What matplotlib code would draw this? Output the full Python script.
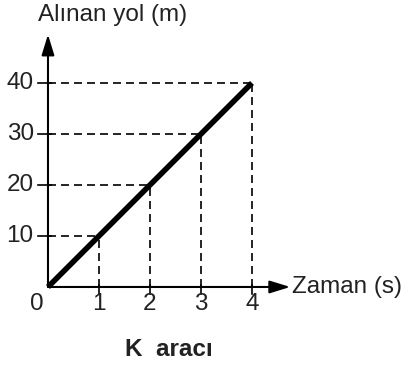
import matplotlib.pyplot as plt

plt.rcParams['font.family'] = ['Liberation Sans', 'DejaVu Sans']

# data
times = [0, 1, 2, 3, 4]
distances = [0, 10, 20, 30, 40]
x_ticks = [1, 2, 3, 4]
y_ticks = [10, 20, 30, 40]

fig = plt.figure(figsize=(4.07, 3.67), dpi=100)
ax = fig.add_axes([0, 0, 1, 1])
ax.set_xlim(-0.941, 7.04)
ax.set_ylim(-15.69, 56.27)
ax.axis('off')

dash = (0, (4.8, 3.0))

# guide lines
for t, d in zip(times[1:], distances[1:]):
    ax.plot([0, t], [d, d], color='black', lw=1.2, ls=dash)
    ax.plot([t, t], [0, d], color='black', lw=1.2, ls=dash)

# axes with arrows
head = '-|>,head_length=0.78,head_width=0.24'
ax.annotate('', xy=(4.75, 0), xytext=(0, 0),
            arrowprops=dict(arrowstyle=head, color='black', lw=1.5,
                            mutation_scale=16, shrinkA=0, shrinkB=0))
ax.annotate('', xy=(0, 49.5), xytext=(0, 0),
            arrowprops=dict(arrowstyle=head, color='black', lw=1.5,
                            mutation_scale=16, shrinkA=0, shrinkB=0))

# ticks
for t in x_ticks:
    ax.plot([t, t], [-1.4, 0.3], color='black', lw=1.2)
    ax.text(t, -3.4, str(t), ha='center', va='center', fontsize=17.5,
            color='#222222')
for d in y_ticks:
    ax.plot([-0.2, 0.05], [d, d], color='black', lw=1.2)
    ax.text(-0.28, d, str(d), ha='right', va='center', fontsize=17.5,
            color='#222222')
ax.text(-0.21, -3.4, '0', ha='center', va='center', fontsize=17.5,
        color='#222222')

# motion line
ax.plot(times, distances, color='black', lw=4, solid_capstyle='butt')

ax.text(4.78, 0, 'Zaman (s)', ha='left', va='center', fontsize=17.5,
        color='#222222')
ax.text(-0.2, 53.4, 'Alınan yol (m)', ha='left', va='center', fontsize=17.5,
        color='#222222')
ax.text(2.37, -12.3, 'K  aracı', ha='center', va='center', fontsize=17.5,
        fontweight='bold', color='#222222')

fig.savefig('out.png', dpi=100)
